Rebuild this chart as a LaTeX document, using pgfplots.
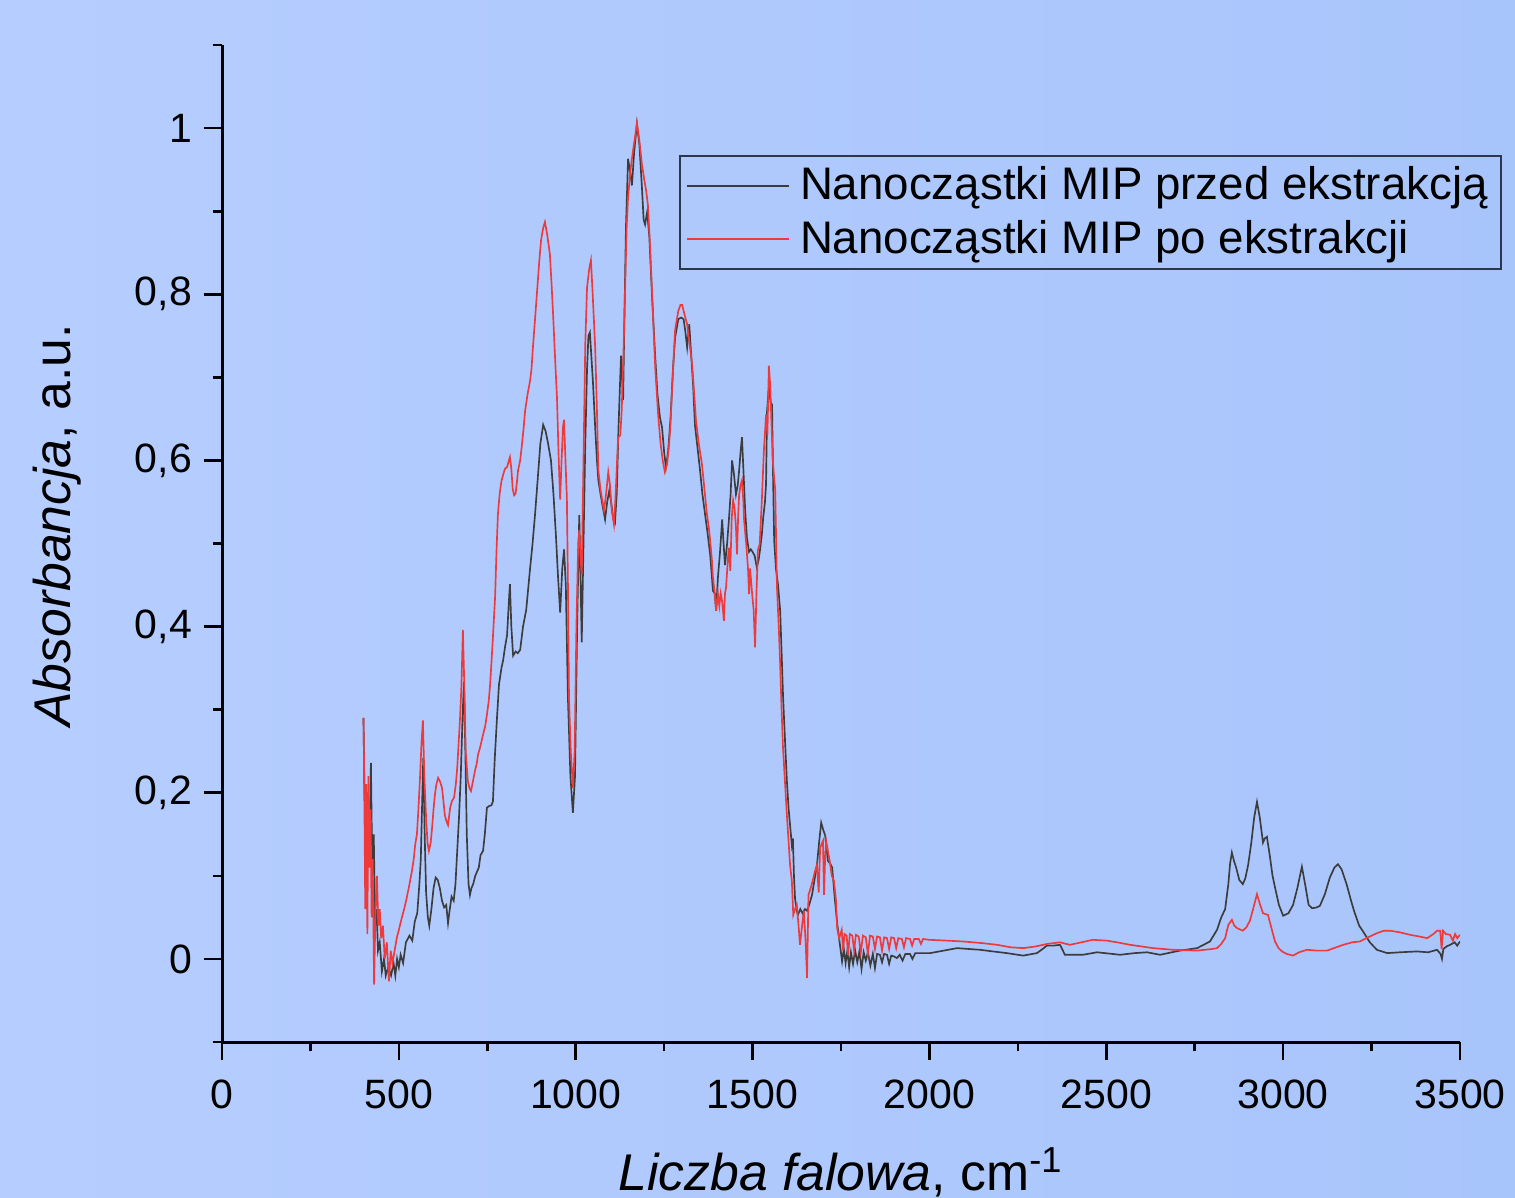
\documentclass[border=0pt]{standalone}
\usepackage{pgfplots}
\pgfplotsset{compat=1.18}
\usepackage{pgfplotstable}
\usepackage{fontspec}
\setmainfont{Liberation Sans}
\definecolor{bgL}{RGB}{182,205,255}
\definecolor{bgR}{RGB}{168,197,251}
\definecolor{cblack}{RGB}{60,60,60}
\definecolor{cred}{RGB}{238,58,58}
\definecolor{legframe}{RGB}{45,55,75}

\pgfplotstableread{
x y
400 0.29
403 0.19
407 0.21
410 0.09
413 0.18
417 0.13
421 0.236
425 0.10
429 0.15
433 0.04
437 0.06
441 0.01
446 0.02
452 -0.015
458 0.0
463 -0.02
470 -0.01
478 -0.02
485 -0.005
490 -0.02
495 0.0
500 -0.01
505 0.005
512 -0.005
520 0.02
530 0.028
538 0.022
545 0.045
552 0.055
558 0.09
562 0.12
566 0.19
569 0.242
573 0.15
577 0.08
582 0.05
586 0.04
592 0.06
598 0.085
604 0.098
610 0.095
616 0.085
622 0.07
628 0.062
634 0.065
639 0.043
644 0.06
649 0.075
655 0.07
660 0.09
665 0.13
670 0.17
675 0.22
680 0.29
684 0.333
688 0.25
692 0.15
697 0.09
701 0.077
705 0.085
710 0.09
716 0.1
721 0.105
726 0.11
731 0.125
738 0.13
743 0.15
749 0.182
755 0.184
762 0.185
766 0.19
771 0.24
777 0.287
783 0.33
790 0.35
795 0.36
800 0.375
806 0.39
811 0.43
814 0.451
818 0.40
823 0.365
830 0.37
836 0.368
843 0.372
851 0.40
860 0.42
871 0.47
878 0.50
885 0.535
893 0.58
900 0.62
908 0.643
915 0.635
922 0.62
930 0.60
937 0.56
944 0.51
950 0.46
956 0.417
962 0.47
967 0.493
972 0.45
978 0.314
985 0.22
992 0.176
998 0.22
1004 0.40
1010 0.534
1014 0.45
1017 0.381
1022 0.50
1027 0.62
1032 0.71
1036 0.75
1040 0.754
1045 0.72
1049 0.692
1055 0.64
1060 0.60
1064 0.576
1070 0.56
1076 0.545
1083 0.529
1089 0.55
1095 0.564
1100 0.55
1106 0.53
1111 0.525
1116 0.56
1121 0.64
1128 0.726
1131 0.70
1134 0.673
1138 0.78
1142 0.88
1148 0.963
1153 0.95
1159 0.931
1165 0.97
1173 1.005
1180 0.98
1187 0.93
1192 0.89
1196 0.884
1202 0.899
1208 0.87
1216 0.796
1224 0.73
1231 0.68
1238 0.652
1244 0.64
1250 0.61
1255 0.592
1261 0.61
1268 0.65
1275 0.71
1281 0.748
1290 0.77
1298 0.772
1305 0.77
1310 0.755
1315 0.736
1321 0.764
1326 0.73
1332 0.69
1337 0.643
1343 0.62
1351 0.59
1358 0.56
1366 0.534
1372 0.515
1380 0.487
1385 0.46
1388 0.443
1393 0.44
1397 0.419
1402 0.459
1408 0.49
1414 0.529
1418 0.50
1422 0.474
1428 0.50
1433 0.528
1438 0.56
1442 0.60
1447 0.585
1453 0.559
1458 0.57
1462 0.588
1466 0.61
1470 0.628
1475 0.58
1479 0.54
1484 0.507
1490 0.49
1495 0.493
1500 0.49
1506 0.485
1512 0.471
1517 0.48
1521 0.492
1526 0.51
1530 0.531
1535 0.55
1538 0.571
1541 0.66
1546 0.688
1551 0.67
1555 0.667
1558 0.58
1561 0.504
1566 0.47
1572 0.45
1578 0.419
1582 0.37
1586 0.318
1592 0.26
1597 0.214
1602 0.18
1606 0.161
1611 0.137
1614 0.145
1617 0.10
1620 0.073
1624 0.06
1628 0.053
1635 0.06
1641 0.055
1648 0.06
1654 0.058
1660 0.065
1668 0.077
1675 0.095
1682 0.113
1688 0.14
1694 0.164
1700 0.155
1705 0.149
1710 0.13
1713 0.118
1719 0.115
1725 0.11
1729 0.09
1733 0.07
1740 0.04
1747 0.017
1753 -0.003
1758 0.012
1763 -0.005
1768 0.01
1773 -0.01
1778 0.008
1784 -0.006
1790 0.01
1796 -0.004
1802 0.009
1808 -0.012
1814 0.008
1820 -0.002
1826 0.008
1833 -0.008
1840 0.006
1846 -0.011
1852 0.006
1860 0.005
1866 -0.004
1872 0.006
1880 0.005
1886 -0.006
1892 0.004
1900 0.003
1908 0.001
1916 0.005
1924 -0.002
1932 0.006
1945 0.006
1952 0.0
1960 0.007
1980 0.007
2002 0.007
2040 0.01
2078 0.013
2110 0.012
2143 0.011
2180 0.009
2219 0.007
2265 0.004
2304 0.007
2320 0.012
2332 0.016
2350 0.016
2369 0.017
2375 0.012
2383 0.005
2434 0.005
2474 0.008
2539 0.005
2580 0.007
2615 0.008
2652 0.005
2708 0.01
2757 0.013
2793 0.021
2813 0.035
2825 0.05
2836 0.06
2845 0.09
2850 0.115
2855 0.128
2861 0.118
2867 0.11
2876 0.095
2886 0.09
2893 0.097
2901 0.113
2910 0.14
2918 0.17
2926 0.189
2934 0.17
2943 0.14
2948 0.145
2954 0.147
2962 0.125
2970 0.1
2977 0.086
2988 0.065
3000 0.052
3015 0.055
3028 0.065
3040 0.085
3053 0.111
3062 0.09
3072 0.065
3082 0.061
3095 0.062
3104 0.064
3118 0.078
3132 0.098
3145 0.11
3155 0.114
3165 0.108
3180 0.089
3192 0.07
3201 0.057
3215 0.04
3226 0.033
3245 0.02
3265 0.011
3294 0.007
3330 0.008
3378 0.009
3410 0.008
3435 0.011
3445 0.006
3449 0.0
3453 0.012
3462 0.015
3472 0.017
3485 0.02
3492 0.016
3500 0.021
}\przed

\pgfplotstableread{
x y
400 0.29
402 0.22
405 0.06
408 0.21
411 0.03
414 0.22
417 0.11
420 0.18
423 0.05
426 0.12
430 -0.031
434 0.06
438 0.10
442 0.04
446 0.06
450 0.025
455 0.04
460 0.0
466 0.02
472 -0.027
477 0.01
482 -0.005
488 0.01
494 0.025
500 0.035
508 0.049
515 0.06
522 0.073
530 0.09
537 0.106
542 0.12
546 0.137
551 0.15
555 0.178
560 0.22
564 0.26
568 0.287
572 0.22
577 0.17
581 0.14
585 0.13
590 0.14
594 0.158
598 0.18
602 0.198
606 0.21
611 0.218
616 0.214
622 0.206
626 0.19
630 0.173
635 0.165
639 0.161
645 0.182
650 0.19
656 0.194
661 0.21
665 0.23
669 0.26
673 0.29
677 0.33
681 0.396
685 0.33
689 0.25
695 0.214
700 0.205
704 0.202
710 0.215
715 0.226
720 0.235
724 0.246
730 0.255
738 0.27
744 0.28
749 0.294
754 0.31
758 0.33
765 0.38
772 0.435
776 0.49
780 0.535
785 0.56
790 0.575
795 0.583
800 0.59
806 0.592
811 0.60
814 0.604
818 0.59
822 0.565
826 0.558
830 0.56
834 0.575
837 0.588
843 0.60
848 0.619
853 0.64
857 0.66
864 0.68
871 0.696
875 0.71
879 0.736
885 0.77
891 0.805
897 0.84
902 0.865
908 0.88
913 0.887
920 0.87
927 0.848
932 0.81
936 0.776
942 0.72
947 0.676
952 0.60
956 0.553
960 0.60
964 0.64
967 0.649
971 0.60
975 0.555
978 0.45
981 0.314
986 0.25
992 0.206
997 0.25
1002 0.40
1007 0.50
1010 0.516
1014 0.48
1017 0.463
1022 0.60
1027 0.74
1032 0.808
1038 0.83
1043 0.841
1048 0.80
1055 0.736
1060 0.66
1064 0.588
1070 0.565
1076 0.55
1080 0.54
1086 0.56
1092 0.586
1097 0.57
1102 0.54
1108 0.523
1113 0.56
1118 0.61
1120 0.628
1126 0.63
1130 0.66
1135 0.73
1139 0.796
1144 0.88
1148 0.917
1155 0.95
1162 0.973
1168 0.99
1173 1.006
1180 0.985
1187 0.957
1193 0.94
1199 0.925
1204 0.908
1210 0.86
1218 0.78
1225 0.71
1233 0.655
1240 0.62
1246 0.60
1252 0.586
1258 0.595
1262 0.61
1267 0.636
1274 0.70
1281 0.757
1290 0.78
1296 0.787
1301 0.787
1308 0.775
1315 0.764
1322 0.74
1329 0.716
1335 0.68
1340 0.648
1348 0.62
1357 0.595
1364 0.565
1371 0.535
1376 0.52
1380 0.504
1385 0.48
1388 0.459
1393 0.44
1397 0.419
1402 0.44
1406 0.425
1410 0.44
1414 0.43
1419 0.407
1422 0.44
1425 0.447
1430 0.48
1433 0.495
1437 0.467
1441 0.53
1445 0.552
1449 0.543
1453 0.52
1456 0.487
1459 0.53
1462 0.559
1466 0.57
1470 0.576
1474 0.55
1476 0.528
1482 0.50
1487 0.47
1490 0.439
1493 0.47
1498 0.443
1503 0.42
1507 0.375
1511 0.44
1515 0.492
1520 0.499
1526 0.55
1532 0.612
1536 0.64
1538 0.655
1542 0.631
1546 0.714
1550 0.69
1553 0.65
1557 0.60
1564 0.564
1569 0.447
1574 0.40
1578 0.354
1582 0.30
1586 0.254
1592 0.21
1597 0.173
1602 0.14
1606 0.113
1611 0.094
1615 0.053
1620 0.06
1625 0.065
1630 0.04
1634 0.017
1640 0.04
1645 0.058
1650 0.02
1654 -0.023
1658 0.077
1664 0.085
1670 0.094
1676 0.105
1682 0.113
1687 0.08
1691 0.134
1695 0.138
1699 0.142
1702 0.077
1705 0.12
1708 0.142
1713 0.13
1718 0.118
1724 0.10
1730 0.094
1736 0.07
1739 0.037
1745 0.025
1752 0.035
1756 0.01
1760 0.03
1766 0.028
1770 0.005
1775 0.03
1782 0.028
1787 0.01
1792 0.029
1800 0.027
1806 0.008
1812 0.028
1820 0.026
1826 0.006
1832 0.028
1840 0.027
1846 0.012
1852 0.027
1860 0.026
1866 0.01
1872 0.026
1880 0.025
1886 0.012
1892 0.026
1900 0.025
1906 0.013
1912 0.025
1922 0.024
1928 0.014
1934 0.025
1945 0.024
1951 0.016
1957 0.024
1970 0.024
1976 0.018
1982 0.024
2000 0.023
2050 0.022
2095 0.021
2150 0.019
2191 0.017
2230 0.014
2265 0.013
2300 0.015
2332 0.018
2369 0.02
2397 0.017
2430 0.02
2462 0.023
2502 0.022
2530 0.02
2567 0.017
2600 0.015
2632 0.013
2689 0.011
2757 0.01
2800 0.012
2813 0.013
2825 0.018
2836 0.025
2845 0.041
2855 0.047
2862 0.04
2870 0.037
2886 0.034
2896 0.038
2906 0.046
2915 0.06
2926 0.078
2935 0.065
2943 0.055
2957 0.053
2965 0.04
2977 0.021
2987 0.013
2997 0.009
3010 0.006
3028 0.004
3045 0.008
3067 0.011
3095 0.01
3124 0.01
3150 0.014
3170 0.017
3195 0.02
3217 0.021
3240 0.026
3265 0.031
3285 0.034
3302 0.034
3330 0.032
3359 0.029
3385 0.027
3407 0.025
3425 0.03
3435 0.034
3444 0.034
3448 0.012
3452 0.034
3460 0.03
3472 0.029
3480 0.022
3486 0.03
3492 0.025
3500 0.029
}\po

\begin{document}
\begin{tikzpicture}
\path[use as bounding box] (-66.6pt,-46.5pt) rectangle (387.9pt,312.6pt);
\clip (-66.6pt,-46.5pt) rectangle (387.9pt,312.6pt);
\shade[left color=bgL, right color=bgR] (-66.6pt,-46.5pt) rectangle (387.9pt,312.6pt);
\begin{axis}[
  at={(0,0)}, anchor=south west,
  scale only axis, width=371.4pt, height=299.1pt,
  xmin=0, xmax=3500, ymin=-0.1, ymax=1.1,
  axis x line*=bottom, axis y line*=left,
  axis line style={black, line width=0.9pt},
  tick align=outside,
  xtick={0,500,...,3500},
  minor xtick={250,750,...,3250},
  ytick={0,0.2,0.4,0.6,0.8,1},
  minor ytick={-0.1,0.1,0.3,0.5,0.7,0.9,1.1},
  major tick length=5.5pt, minor tick length=2.8pt,
  every tick/.style={black, line width=0.8pt},
  /pgf/number format/assume math mode=true,
  /pgf/number format/use comma,
  /pgf/number format/set thousands separator={},
  yticklabel style={/pgf/number format/fixed, /pgf/number format/precision=1},
  xticklabel style={yshift=-2.4pt},
  tick label style={font=\fontsize{12.3}{14}\selectfont},
  every axis x label/.style={at={(axis description cs:0.5,0)}, yshift=-44.4pt, anchor=base},
  every axis y label/.style={at={(axis description cs:0,0.518)}, xshift=-49.5pt, rotate=90, anchor=center},
  label style={font=\fontsize{15.5}{18}\selectfont},
  xlabel={\textit{Liczba falowa}, cm\textsuperscript{-1}},
  ylabel={\textit{Absorbancja}, a.u.},
  legend cell align=left,
  legend image code/.code={\draw[#1] (0pt,0pt) -- (30.6pt,0pt);},
  legend style={at={(axis description cs:0.369,0.8897)}, anchor=north west,
    draw=legframe, line width=0.5pt, fill=none,
    font=\fontsize{13.7}{16}\selectfont,
    inner xsep=2pt, inner ysep=1.3pt, row sep=0.6pt,
    nodes={inner sep=2pt},
    /tikz/every odd column/.append style={column sep=1pt}},
]
\addplot[cblack, line width=0.5pt] table[x=x,y=y] {\przed};
\addlegendentry{Nanocząstki MIP przed ekstrakcją}
\addplot[cred, line width=0.5pt] table[x=x,y=y] {\po};
\addlegendentry{Nanocząstki MIP po ekstrakcji}
\end{axis}
\end{tikzpicture}
\end{document}
